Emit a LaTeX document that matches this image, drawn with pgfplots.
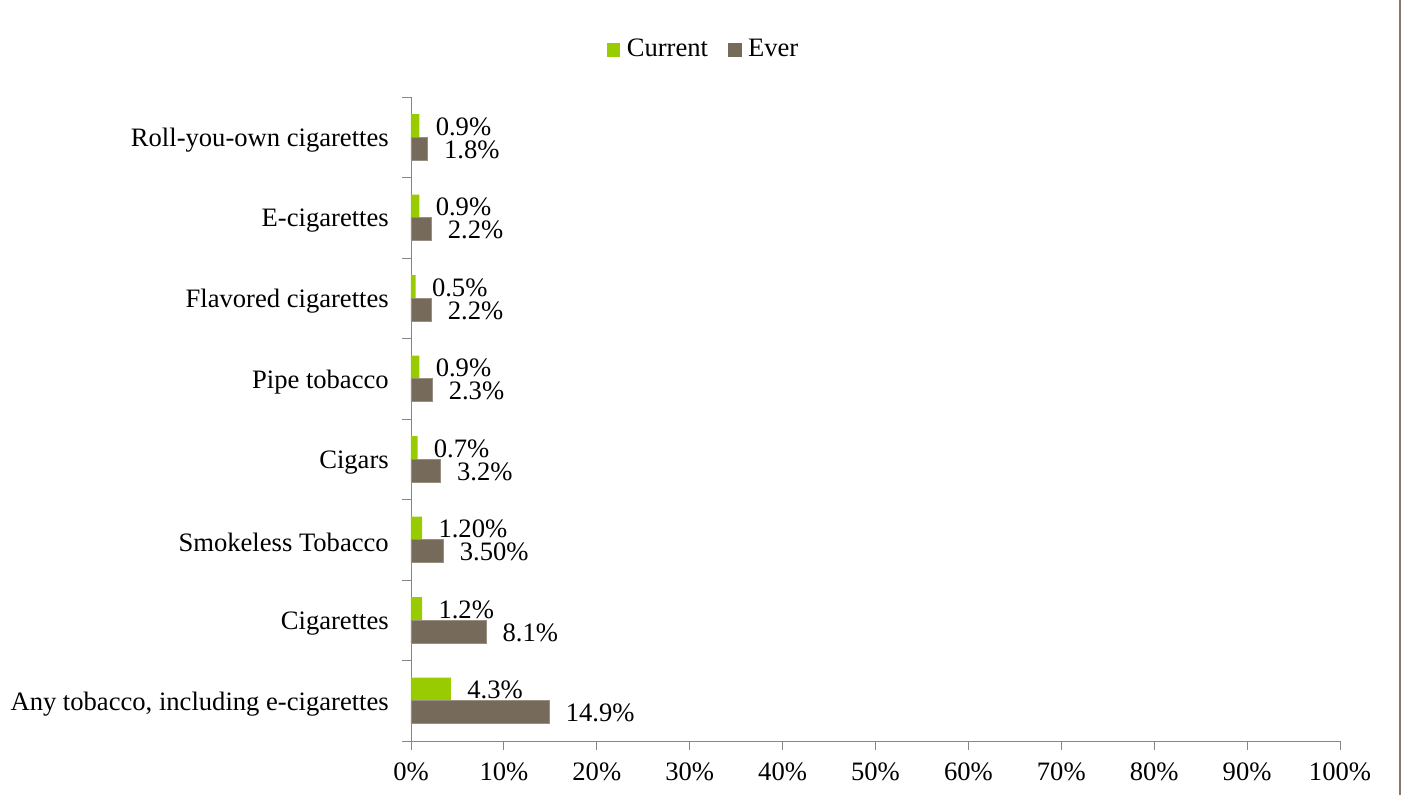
\documentclass[border=0pt]{standalone}
\usepackage{pgfplots}
\pgfplotsset{compat=1.18}
\usepackage{fontspec}
\setmainfont{Liberation Serif}
\definecolor{cur}{HTML}{99CC00}
\definecolor{ever}{HTML}{766A5A}
\definecolor{axgray}{HTML}{868686}
\begin{document}
\fontsize{13.3}{15}\selectfont
\begin{tikzpicture}
\useasboundingbox (0,0) rectangle (702.5pt,397.5pt);
\begin{axis}[
 at={(205.5pt,27pt)}, anchor=south west,
 scale only axis, width=464.5pt, height=322pt,
 xbar, bar width=11.5pt,
 xmin=0, xmax=100, ymin=-0.5, ymax=7.5,
 axis x line*=bottom, axis y line*=left,
 axis line style={axgray, -},
 every tick/.style={axgray},
 tick align=outside,
 major tick length=4.5pt, minor tick length=4.5pt,
 xtick={0,10,...,100},
 xticklabel={\pgfmathprintnumber{\tick}\%},
 /pgf/number format/assume math mode=true,
 ytick={0,...,7},
 yticklabels={{Any tobacco, including e-cigarettes}, Cigarettes, Smokeless Tobacco, Cigars, Pipe tobacco, Flavored cigarettes, E-cigarettes, Roll-you-own cigarettes},
 minor ytick={-0.5,0.5,...,7.5},
 major y tick style={draw=none},
 minor y tick style={axgray},
 yticklabel style={font=\fontsize{13.3}{15}\selectfont, text=black, xshift=-2pt, yshift=-1.5pt},
 xticklabel style={font=\fontsize{13.3}{15}\selectfont, text=black, yshift=-2pt},
 point meta=explicit symbolic,
 nodes near coords,
 nodes near coords style={anchor=west, inner sep=0pt, xshift=8pt, yshift=-0.5pt, font=\fontsize{13.3}{15}\selectfont, text=black},
 legend style={at={(0.316,1.073)}, anchor=center, draw=none, legend columns=2,
   font=\fontsize{13.3}{15}\selectfont, /tikz/every even column/.append style={column sep=8pt}},
]
\addplot[fill=cur, draw=none, bar shift=5.75pt,
  legend image code/.code={\path[draw=none,fill=none] (0pt,0pt) -- (8pt,0pt);\fill[cur,draw=none] (0pt,-3.4pt) rectangle (6.8pt,3.4pt);}]
 coordinates {(4.3,0)[4.3\%] (1.2,1)[1.2\%] (1.2,2)[1.20\%] (0.7,3)[0.7\%] (0.9,4)[0.9\%] (0.5,5)[0.5\%] (0.9,6)[0.9\%] (0.9,7)[0.9\%]};
\addlegendentry{Current}
\addplot[fill=ever, draw=ever!75!white, bar shift=-5.75pt,
  legend image code/.code={\path[draw=none,fill=none] (0pt,0pt) -- (8pt,0pt);\fill[ever,draw=none] (0pt,-3.4pt) rectangle (6.8pt,3.4pt);}]
 coordinates {(14.9,0)[14.9\%] (8.1,1)[8.1\%] (3.5,2)[3.50\%] (3.2,3)[3.2\%] (2.3,4)[2.3\%] (2.2,5)[2.2\%] (2.2,6)[2.2\%] (1.8,7)[1.8\%]};
\addlegendentry{Ever}
\end{axis}
\draw[color=ever!90, line width=0.6pt] (700pt,0pt) -- (700pt,397.5pt);
\end{tikzpicture}
\end{document}
